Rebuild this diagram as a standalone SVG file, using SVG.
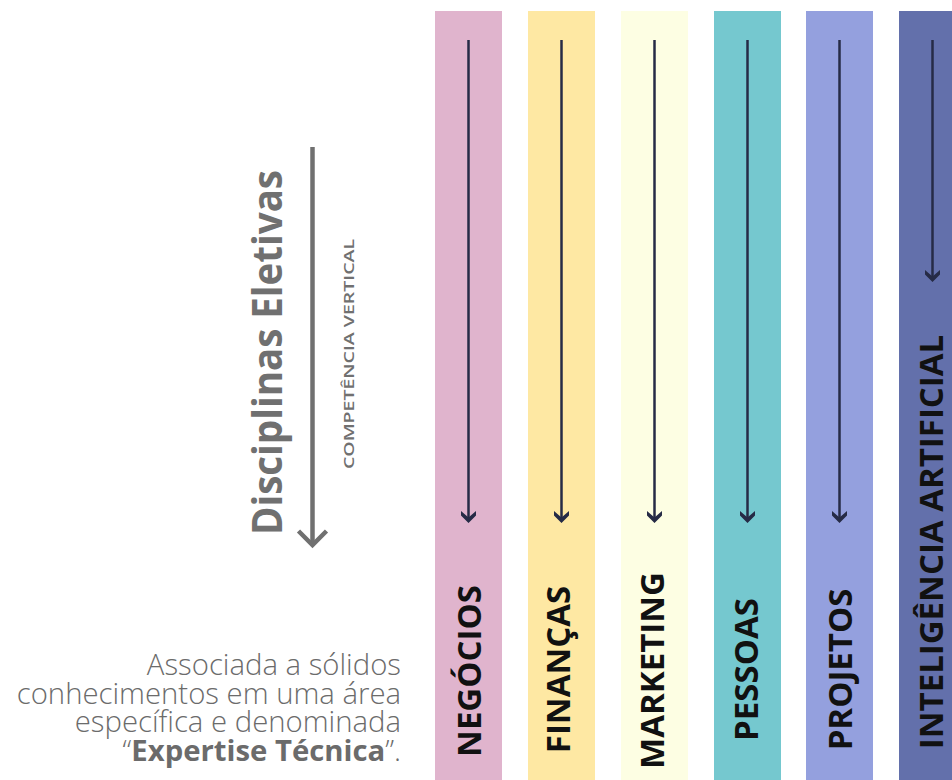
<svg xmlns="http://www.w3.org/2000/svg" width="952" height="780" viewBox="0 0 952 780">
<style>
.col{stroke:none}
.lbl{font-family:"Open Sans","Noto Sans",sans-serif;font-weight:700;font-size:33px;fill:#111111;text-anchor:middle}
.arr{stroke:#262b46;stroke-width:2.5;fill:none;marker-end:url(#head)}
.gray{fill:#707070;font-family:"Open Sans","Noto Sans",sans-serif}
.para{font-family:"Open Sans","Noto Sans",sans-serif;font-weight:300;font-size:29.3px;fill:#6b6b6b;text-anchor:end}
</style>
<defs>
<marker id="head" markerUnits="userSpaceOnUse" viewBox="0 0 12 16" markerWidth="12" markerHeight="16" refX="9" refY="8" orient="auto">
<path d="M0,0.5 L6.5,8 L0,15.5 L4.5,15.5 L12,8 L4.5,0.5 Z" fill="#262b46"/>
</marker>
</defs>

<g id="intro">
<text class="gray" font-weight="700" font-size="41" text-anchor="middle" transform="translate(282,352.5) rotate(-90)" textLength="365" lengthAdjust="spacingAndGlyphs">Disciplinas Eletivas</text>
<text class="gray" font-size="15" font-weight="600" fill="#666666" text-anchor="middle" transform="translate(354,354) rotate(-90) scale(1.3,1)">COMPETÊNCIA VERTICAL</text>
<line x1="312.5" y1="147" x2="312.5" y2="544" stroke="#707070" stroke-width="4.5"/>
<polyline points="298.5,531 312.5,545 326.5,531" fill="none" stroke="#707070" stroke-width="4.5"/>
</g>

<g id="description">
<text class="para" x="401" y="675">Associada a sólidos</text>
<text class="para" x="401" y="703.5">conhecimentos em uma área</text>
<text class="para" x="401" y="732">específica e denominada</text>
<text class="para" x="401" y="760.5">“<tspan font-weight="700">Expertise Técnica</tspan>”.</text>
</g>

<g id="negocios">
<rect class="col" x="435" y="11" width="67" height="769" fill="#e0b4cd"/>
<text class="lbl" transform="translate(481,671) rotate(-90)">NEGÓCIOS</text>
</g>
<g id="financas">
<rect class="col" x="528" y="11" width="67" height="769" fill="#fee8a3"/>
<text class="lbl" transform="translate(570,669.5) rotate(-90)">FINANÇAS</text>
</g>
<g id="marketing">
<rect class="col" x="621" y="11" width="67" height="769" fill="#fdfee3"/>
<text class="lbl" transform="translate(664,670.5) rotate(-90)">MARKETING</text>
</g>
<g id="pessoas">
<rect class="col" x="714" y="11" width="67" height="769" fill="#75c8cf"/>
<text class="lbl" transform="translate(758,669.5) rotate(-90)">PESSOAS</text>
</g>
<g id="projetos">
<rect class="col" x="806" y="11" width="67" height="769" fill="#94a0de"/>
<text class="lbl" transform="translate(852,669.5) rotate(-90)">PROJETOS</text>
</g>
<g id="ia">
<rect class="col" x="899" y="11" width="67" height="769" fill="#6370ab"/>
<text class="lbl" transform="translate(943,542) rotate(-90)">INTELIGÊNCIA ARTIFICIAL</text>
</g>

<g id="connectors">
<line class="arr" x1="468.5" y1="40" x2="468.5" y2="520"/>
<line class="arr" x1="561.5" y1="40" x2="561.5" y2="520"/>
<line class="arr" x1="654.5" y1="40" x2="654.5" y2="520"/>
<line class="arr" x1="747.5" y1="40" x2="747.5" y2="520"/>
<line class="arr" x1="839.5" y1="40" x2="839.5" y2="520"/>
<line class="arr" x1="932.5" y1="40" x2="932.5" y2="279"/>
</g>
</svg>
